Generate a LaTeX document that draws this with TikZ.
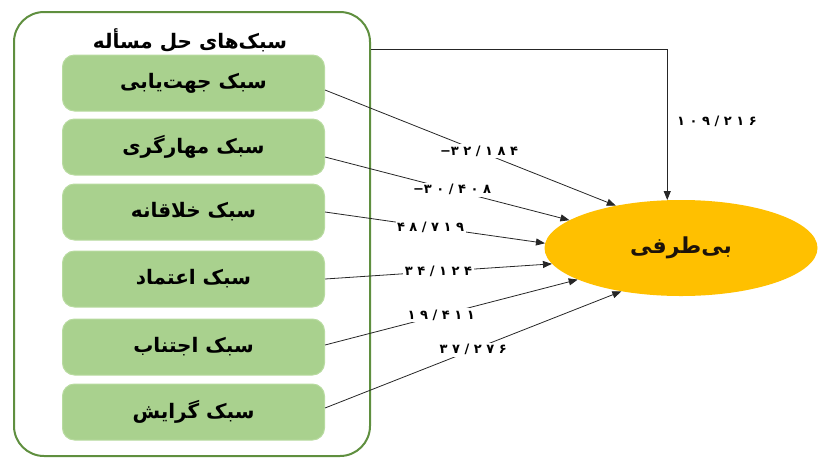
\documentclass[tikz,border=0pt]{standalone}
\usepackage{fontspec}
\newfontfamily\fa[Script=Arabic]{DejaVu Sans}
\newfontfamily\fanum[Script=Arabic, LetterSpace=35]{DejaVu Sans}
\TeXXeTstate=1
\usetikzlibrary{shapes.geometric,arrows.meta,calc}
\definecolor{boxfill}{HTML}{A9D18E}
\definecolor{boxline}{HTML}{B8DBA0}
\definecolor{outerline}{HTML}{5F8F3F}
\definecolor{gold}{HTML}{FFC000}
\newcommand{\minusnum}[1]{\hbox{−}\hbox{#1}}
\begin{document}
\begin{tikzpicture}[x=1pt,y=-1pt,
  stylebox/.style={rectangle, rounded corners=12pt, fill=boxfill, draw=boxline, line width=1pt,
    minimum width=262pt, minimum height=56pt, font=\fa\bfseries\fontsize{20}{24}\selectfont},
  wt/.style={fill=white, inner sep=1.5pt, font=\fanum\bfseries\fontsize{13}{15}\selectfont},
  conn/.style={draw=black!85, line width=0.8pt, -{Triangle[length=9pt,width=7pt]}}
]
\useasboundingbox (0,0) rectangle (819,459);
\node[draw=outerline, line width=2pt, rounded corners=30pt, minimum width=356pt, minimum height=444pt] (outer) at (192,234) {};
\node[font=\fa\bfseries\fontsize{20}{24}\selectfont] (title) at (190,40) {\beginR سبک‌های حل مسأله\endR};
\node[stylebox] (b1) at (193.5,83) {\beginR سبک جهت‌یابی\endR};
\node[stylebox] (b2) at (193.5,147) {\beginR سبک مهارگری\endR};
\node[stylebox] (b3) at (193.5,212) {\beginR سبک خلاقانه\endR};
\node[stylebox] (b4) at (193.5,279) {\beginR سبک اعتماد\endR};
\node[stylebox] (b5) at (193.5,347) {\beginR سبک اجتناب\endR};
\node[stylebox] (b6) at (193.5,412) {\beginR سبک گرایش\endR};
\node[ellipse, fill=gold, minimum width=273pt, minimum height=96pt, inner sep=0pt,
  font=\fa\bfseries\fontsize{22}{26}\selectfont, text=black!85!brown] (ell) at (681,248) {\beginR بی‌طرفی\endR};
\draw[conn] ([yshift=-7pt]b1.east) -- node[wt, pos=0.53]{\minusnum{۳۲/۱۸۴}} (ell.147.7);
\draw[conn] ([yshift=-10pt]b2.east) -- node[wt, pos=0.52]{\minusnum{۳۰/۴۰۸}} (ell.166.2);
\draw[conn] (b3.east) -- node[wt, pos=0.48]{۴۸/۷۱۹} (ell.178.8);
\draw[conn] (b4.east) -- node[wt]{۳۴/۱۲۴} (ell.187);
\draw[conn] ([yshift=2pt]b5.east) -- node[wt, pos=0.46]{۱۹/۴۱۱} (ell.197);
\draw[conn] ([yshift=4pt]b6.east) -- node[wt]{۳۷/۲۷۶} (ell.216);
\draw[conn] ([yshift=-38pt]outer.north east) -| node[wt, pos=0.74, anchor=west, xshift=8pt]{۱۰۹/۲۱۶} (ell.106);
\end{tikzpicture}
\end{document}
